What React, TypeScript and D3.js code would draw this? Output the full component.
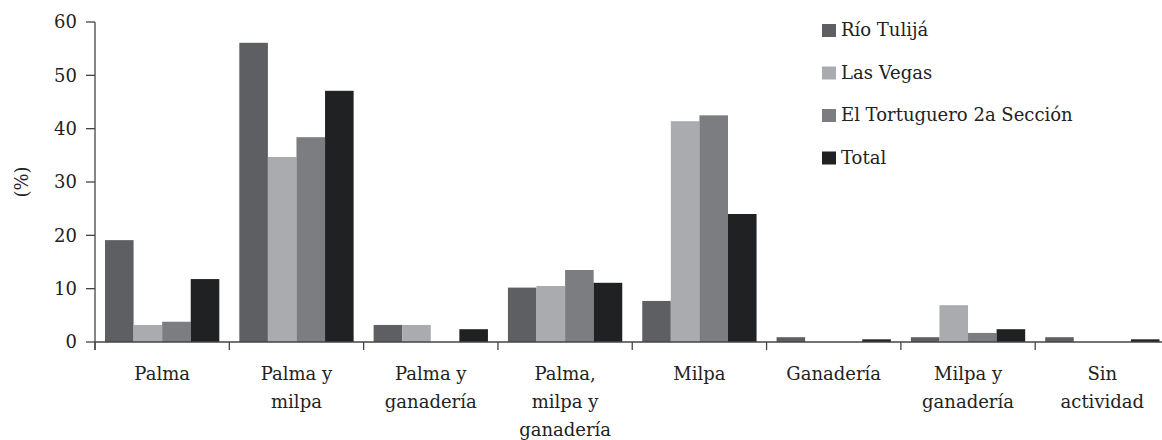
import * as d3 from "d3"

const categories = [
  "Palma",
  "Palma y\nmilpa",
  "Palma y\nganadería",
  "Palma,\nmilpa y\nganadería",
  "Milpa",
  "Ganadería",
  "Milpa y\nganadería",
  "Sin\nactividad",
]
const series = ["Río Tulijá", "Las Vegas", "El Tortuguero 2a Sección", "Total"]
const rioTulija = [19.1, 56.1, 3.2, 10.2, 7.7, 0.9, 0.9, 0.9]
const lasVegas = [3.2, 34.7, 3.2, 10.5, 41.4, 0, 6.9, 0]
const elTortuguero = [3.8, 38.4, 0, 13.5, 42.5, 0, 1.7, 0]
const total = [11.8, 47.1, 2.4, 11.1, 24.0, 0.5, 2.4, 0.5]
const yTicks = [0, 10, 20, 30, 40, 50, 60]

const colors = ["#5e5f63", "#a9abae", "#7c7d81", "#202123"]
const values = [rioTulija, lasVegas, elTortuguero, total]

export default function App() {
  const width = 1162
  const height = 440
  const txt = { fontFamily: "\"DejaVu Serif\", \"Liberation Serif\", serif", fontSize: "18px" }

  const x0 = d3.scaleBand().domain(categories).range([95, 1169.5]).paddingInner(0).paddingOuter(0)
  const bw = x0.bandwidth()
  const x1 = d3.scaleBand().domain(series).range([10, bw - 10])
  const y = d3.scaleLinear().domain([0, 60]).range([342, 22])

  const edges = categories.map(c => x0(c)!).concat([x0(categories[categories.length - 1])! + bw])

  return (
    <div style={{ position: "fixed", left: 0, top: 0 }}>
      <svg width={width} height={height} style={{ display: "block", background: "#fff" }}>
        {/* bars */}
        {categories.map((c, i) => (
          <g key={c} transform={`translate(${x0(c)},0)`}>
            {series.map((s, j) => {
              const v = values[j][i]
              if (!v) return null
              return (
                <rect key={s} x={x1(s)} y={y(v)} width={x1.bandwidth()} height={y(0) - y(v)} fill={colors[j]} />
              )
            })}
          </g>
        ))}

        {/* y axis */}
        <line x1={95} x2={95} y1={y(60)} y2={350} stroke="#444" strokeWidth={1.3} />
        {yTicks.map(t => (
          <g key={t}>
            <line x1={86} x2={95} y1={y(t)} y2={y(t)} stroke="#444" strokeWidth={1.3} />
            <text x={77} y={y(t)} dy="0.35em" textAnchor="end" style={txt} fill="#222">
              {t}
            </text>
          </g>
        ))}
        <text
          transform={`translate(22,${(y(60) + y(0)) / 2}) rotate(-90)`}
          textAnchor="middle"
          dy="0.35em"
          style={txt}
          fill="#222"
        >
          (%)
        </text>

        {/* x axis */}
        <line x1={95} x2={width} y1={y(0)} y2={y(0)} stroke="#444" strokeWidth={1.3} />
        {edges.map((e, i) => (
          <line key={i} x1={e} x2={e} y1={y(0)} y2={350} stroke="#444" strokeWidth={1.3} />
        ))}
        {categories.map(c => (
          <text key={c} x={x0(c)! + bw / 2} y={380} textAnchor="middle" style={txt} fill="#222">
            {c.split("\n").map((line, k) => (
              <tspan key={k} x={x0(c)! + bw / 2} dy={k === 0 ? 0 : 28}>
                {line}
              </tspan>
            ))}
          </text>
        ))}

        {/* legend */}
        {series.map((s, j) => (
          <g key={s} transform={`translate(822,${30 + j * 42.5})`}>
            <rect x={0} y={-6} width={14} height={13} fill={colors[j]} />
            <text x={19} y={0} dy="0.35em" style={txt} fill="#222">
              {s}
            </text>
          </g>
        ))}
      </svg>
    </div>
  )
}
